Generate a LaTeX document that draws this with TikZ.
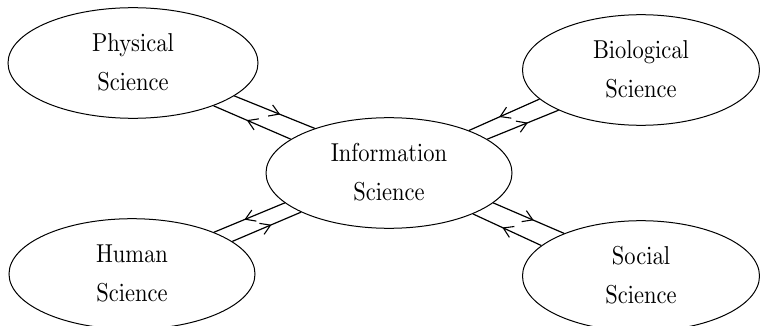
\documentclass[tikz,border=0pt]{standalone}
\usetikzlibrary{shapes.geometric,arrows.meta,decorations.markings}
\font\lblfont=cmr10 at 22.5pt
\newcommand\lbl[2]{\scalebox{1}[1.15]{\fontsize{22.5}{34}\selectfont\lblfont\begin{tabular}{@{}c@{}}#1\\#2\end{tabular}}}
\begin{document}
\begin{tikzpicture}[x=1pt,y=-1pt,
  ell/.style={draw, ellipse, line width=1pt, inner sep=0pt},
  conn/.style={line width=1.2pt,
    decoration={markings, mark=at position 0.57 with {\arrow[line width=1.1pt]{Straight Barb[length=9.5pt,width=12pt]}}},
    postaction=decorate}]
\useasboundingbox (0,0) rectangle (760,326);
\node[ell, minimum width=250pt, minimum height=104pt] (phys) at (133,63) {\lbl{Physical}{Science}};
\node[ell, minimum width=237pt, minimum height=105pt] (bio) at (641,70) {\lbl{Biological}{Science}};
\node[ell, minimum width=246pt, minimum height=105pt] (info) at (389,173) {\lbl{Information}{Science}};
\node[ell, minimum width=246pt, minimum height=103pt] (hum) at (132,274) {\lbl{Human}{Science}};
\node[ell, minimum width=237pt, minimum height=99pt] (soc) at (641,276) {\lbl{Social}{Science}};
% Physical - Information
\draw[conn] (phys.-18.3) -- (info.149.6);
\draw[conn] (info.161.4) -- (phys.-28);
% Biological - Information
\draw[conn] (bio.196.9) -- (info.28.9);
\draw[conn] (info.19.1) -- (bio.206);
% Human - Information
\draw[conn] (info.196.2) -- (hum.27.4);
\draw[conn] (hum.18.3) -- (info.204.9);
% Social - Information
\draw[conn] (info.-16.5) -- (soc.151.9);
\draw[conn] (soc.163.6) -- (info.-26.9);
\end{tikzpicture}
\end{document}
